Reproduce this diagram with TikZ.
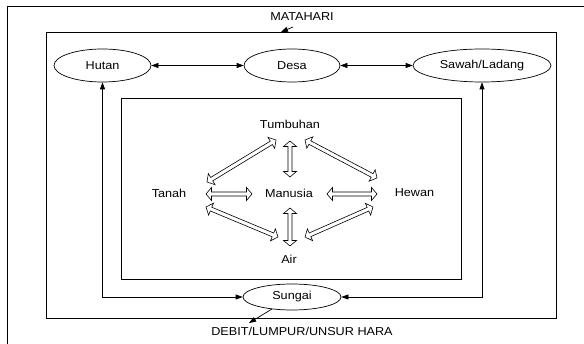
\documentclass[tikz,border=0pt]{standalone}
\usepackage{fontspec}
\setmainfont{Liberation Sans}[FakeStretch=1.1]
\usetikzlibrary{shapes.geometric,arrows.meta,calc}
\tikzset{
  lbl/.style={inner sep=0pt, font=\fontsize{11.5}{13}\selectfont},
  oval/.style={ellipse, draw, line width=0.7pt, inner sep=0pt, minimum height=33pt, font=\fontsize{11.5}{13}\selectfont},
  boxframe/.style={draw, line width=0.7pt, inner sep=0pt, anchor=north west},
  conn/.style={line width=0.7pt},
  tipend/.style={-{Triangle[length=7pt,width=5pt]}},
  bothends/.style={{Triangle[length=7pt,width=5pt]}-{Triangle[length=7pt,width=5pt]}},
  hollowarr/.style={draw, line width=0.6pt, fill=white, line join=miter},
}
\newcommand\hollowarrow[2]{%
  \draw[hollowarr] let \p1=($(#1)!5.5pt!(#2)$), \p2=($(#2)!5.5pt!(#1)$) in
  (#1) -- ($(\p1)!6.5pt!90:(#2)$) -- ($(\p1)!2pt!90:(#2)$)
  -- ($(\p2)!2pt!-90:(#1)$) -- ($(\p2)!6.5pt!-90:(#1)$) -- (#2)
  -- ($(\p2)!6.5pt!90:(#1)$) -- ($(\p2)!2pt!90:(#1)$)
  -- ($(\p1)!2pt!-90:(#2)$) -- ($(\p1)!6.5pt!-90:(#2)$) -- cycle;}
\begin{document}
\begin{tikzpicture}[x=1pt,y=-1pt]
\useasboundingbox (0,0) rectangle (584,344);
\fill[white] (0,0) rectangle (584,344);
% outer frame
\draw[conn] (7,344) -- (7,6) -- (584,6);
\node[lbl] (sun) at (302,17) {MATAHARI};
% middle and inner boxes
\node[boxframe, minimum width=510pt, minimum height=286pt] (mid) at (46,32) {};
\node[boxframe, minimum width=340pt, minimum height=181pt] (inner) at (121,98) {};
\coordinate (sunfrom) at (293,27);
\coordinate (suntip) at (281,32);
\draw[conn,tipend] (sunfrom) -- (suntip);
% top ellipses
\node[oval, minimum width=97pt] (hutan) at (102.5,65.5) {Hutan};
\node[oval, minimum width=96pt] (desa) at (292,65.5) {Desa};
\node[oval, minimum width=138pt] (sawah) at (482,65.5) {Sawah/Ladang};
\draw[conn,bothends] (hutan) -- (desa);
\draw[conn,bothends] (desa) -- (sawah);
% river
\node[oval, minimum width=98pt, minimum height=26pt] (sungai) at (292,297) {Sungai};
\draw[conn,bothends] (hutan.south) |- (sungai.west);
\draw[conn,bothends] (sawah.south) |- (sungai.east);
\node[lbl] (debit) at (302,331) {DEBIT/LUMPUR/UNSUR HARA};
\coordinate (sgfrom) at (272,309);
\coordinate (sgtip) at (249,323);
\draw[conn,tipend] (sgfrom) -- (sgtip);
% inner labels
\node[lbl] (tumbuhan) at (290,124) {Tumbuhan};
\node[lbl] (tanah) at (169,193) {Tanah};
\node[lbl] (manusia) at (289,193) {Manusia};
\node[lbl] (hewan) at (414.5,193) {Hewan};
\node[lbl] (air) at (289,259) {Air};
% hollow arrow end points
\coordinate (a1) at (207,182); \coordinate (a2) at (276,140);
\coordinate (b1) at (290,141); \coordinate (b2) at (290,177);
\coordinate (c1) at (305,140); \coordinate (c2) at (377,178);
\coordinate (d1) at (206,194); \coordinate (d2) at (252,194);
\coordinate (e1) at (327,194); \coordinate (e2) at (377,194);
\coordinate (f1) at (206,207); \coordinate (f2) at (278,237);
\coordinate (g1) at (290,208); \coordinate (g2) at (290,246);
\coordinate (h1) at (305,237); \coordinate (h2) at (373,207);
\hollowarrow{a1}{a2}
\hollowarrow{b1}{b2}
\hollowarrow{c1}{c2}
\hollowarrow{d1}{d2}
\hollowarrow{e1}{e2}
\hollowarrow{f1}{f2}
\hollowarrow{g1}{g2}
\hollowarrow{h1}{h2}
\end{tikzpicture}
\end{document}
